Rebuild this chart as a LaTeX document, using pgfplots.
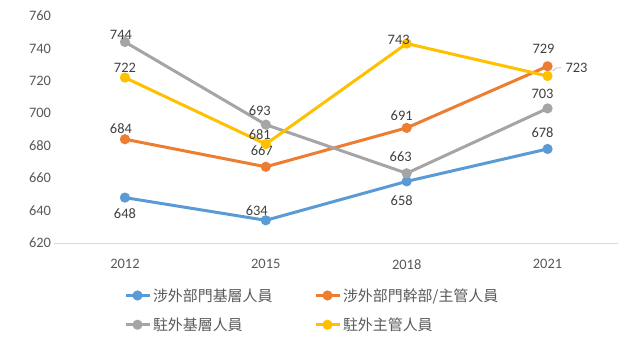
\documentclass[border=0pt]{standalone}
\usepackage{pgfplots}
\pgfplotsset{compat=1.18}
\usepackage{pgfplotstable}
\usepackage{fontspec}
\setmainfont{Carlito}
\newfontfamily\cjk{Noto Sans CJK TC}
\definecolor{cblue}{HTML}{5B9BD5}
\definecolor{corange}{HTML}{ED7D31}
\definecolor{cgray}{HTML}{A5A5A5}
\definecolor{cyellow}{HTML}{FFC000}
\definecolor{tgray}{HTML}{595959}
\definecolor{lgray}{HTML}{404040}
\definecolor{agray}{HTML}{D9D9D9}
\pgfplotstableread{
x y dx dy
0 648 0 -16
1 634 -9 10
2 658 -5 -19
3 678 -5 16
}\tblA
\pgfplotstableread{
x y dx dy
0 684 -4 11
1 667 -4 16
2 691 -5 12
3 729 -4 17
}\tblB
\pgfplotstableread{
x y dx dy
0 744 -4 7
1 693 -6 14
2 663 -6 17
3 703 -5 15
}\tblC
\pgfplotstableread{
x y dx dy
0 722 0 10
1 681 -6 9
2 743 -8 4
3 723 29 8
}\tblD
\begin{document}
\begin{tikzpicture}
\path[use as bounding box] (-54.5bp,-111bp) rectangle (585.5bp,243bp);
\begin{axis}[
  at={(0,0)}, anchor=south west,
  scale only axis, width=563.5bp, height=227bp,
  xmin=-0.5, xmax=3.5, ymin=620, ymax=760,
  xtick={0,1,2,3}, xticklabels={2012,2015,2018,2021},
  ytick={620,640,...,760},
  axis x line=bottom, axis y line=left,
  axis line style={draw=none},
  x axis line style={draw=agray, line width=0.75bp, -},
  major tick length=0,
  tick label style={font=\fontsize{14.5}{16}\selectfont, text=tgray},
  xticklabel style={yshift=-13bp},
  /pgf/number format/assume math mode=true,
  clip=false,
  every axis plot/.append style={line width=3bp, mark=*, mark size=3.5bp},
  nodes near coords,
  nodes near coords style={font=\fontsize{14.5}{16}\selectfont, text=lgray, anchor=center},
  visualization depends on={\thisrow{dx} \as \dx},
  visualization depends on={\thisrow{dy} \as \dy},
  every node near coord/.append style={xshift=\dx bp, yshift=\dy bp},
  legend columns=2,
  legend cell align=left,
  legend style={draw=none, fill=none, at={(axis description cs:0.123,-0.19)}, anchor=north west,
    font=\fontsize{15}{17}\selectfont\cjk, text=tgray, inner sep=0pt,
    nodes={inner sep=2bp, text width=149bp}, row sep=11bp,
    /tikz/every even column/.append style={column sep=10bp}},
  legend image code/.code={\draw[#1, mark repeat=2, mark phase=2] plot coordinates {(0bp,0bp) (12bp,0bp) (24bp,0bp)};},
]
\addplot[color=cblue, mark options={fill=cblue, draw=cblue}] table[x=x,y=y] {\tblA};
\addlegendentry{涉外部門基層人員}
\addplot[color=corange, mark options={fill=corange, draw=corange}] table[x=x,y=y] {\tblB};
\addlegendentry{涉外部門幹部/主管人員}
\addplot[color=cgray, mark options={fill=cgray, draw=cgray}] table[x=x,y=y] {\tblC};
\addlegendentry{駐外基層人員}
\addplot[color=cyellow, mark options={fill=cyellow, draw=cyellow}] table[x=x,y=y] {\tblD};
\addlegendentry{駐外主管人員}
\draw[cgray, line width=0.5bp] (axis cs:3,723) ++(5bp,5bp) -- ++(4bp,3bp) -- ++(5bp,0bp);
\end{axis}
\end{tikzpicture}
\end{document}
